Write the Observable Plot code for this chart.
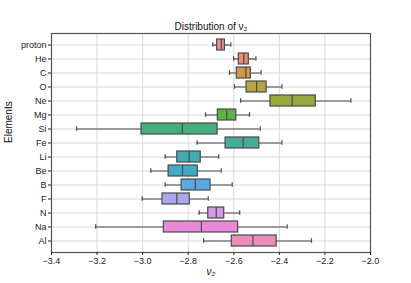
<!DOCTYPE html>
<html><head><meta charset="utf-8">
<script src="https://cdn.jsdelivr.net/npm/d3@7"></script>
<script src="https://cdn.jsdelivr.net/npm/@observablehq/plot@0.6"></script>
<style>
html,body{margin:0;padding:0;background:#fff;}
svg{font-family:"Liberation Sans",Arial,sans-serif;}
</style>
</head><body>
<div id="chart"></div>
<script>
const elements = ["proton","He","C","O","Ne","Mg","Si","Fe","Li","Be","B","F","N","Na","Al"].filter(e => e !== "");
const whiskerLow = [-2.692,-2.601,-2.619,-2.597,-2.570,-2.724,-3.290,-2.761,-2.901,-2.964,-2.901,-3.002,-2.752,-3.206,-2.732];
const q1 =         [-2.673,-2.578,-2.587,-2.544,-2.439,-2.670,-3.005,-2.636,-2.848,-2.886,-2.829,-2.913,-2.712,-2.907,-2.609];
const median =     [-2.655,-2.556,-2.547,-2.500,-2.344,-2.631,-2.826,-2.559,-2.796,-2.825,-2.769,-2.850,-2.677,-2.742,-2.516];
const q3 =         [-2.639,-2.534,-2.525,-2.456,-2.240,-2.589,-2.671,-2.488,-2.745,-2.758,-2.702,-2.793,-2.642,-2.581,-2.412];
const whiskerHigh =[-2.613,-2.503,-2.480,-2.389,-2.086,-2.531,-2.484,-2.389,-2.666,-2.655,-2.607,-2.712,-2.574,-2.366,-2.259];
const colors = ["#e8919b","#e6906d","#cf9a45","#b5a441","#98a83f","#5db446","#44ae7e","#45ac99","#45abb3","#42abc4","#5aa8e0","#a9a8ee","#d49ae8","#e88ad9","#ea8db8"];
const xTicks = [-3.4,-3.2,-3.0,-2.8,-2.6,-2.4,-2.2,-2.0];

const rows = elements.map((e,i) => ({el:e, lo:whiskerLow[i], q1:q1[i], med:median[i], q3:q3[i], hi:whiskerHigh[i], color:colors[i]}));
const edge = "#4a4a4a";

const chart = Plot.plot({
  width: 411, height: 283,
  marginLeft: 51, marginRight: 41, marginTop: 33, marginBottom: 31,
  style: {fontFamily: '"Liberation Sans", Arial, sans-serif', fontSize: "9px", color: "#222"},
  x: {domain: [-3.4, -2.0], ticks: xTicks, tickFormat: d3.format(".1f"), label: null},
  y: {domain: elements, paddingInner: 0.2, paddingOuter: 0.1, label: null},
  marks: [
    Plot.gridX(xTicks, {stroke: "#d9d9d9", strokeOpacity: 1}),
    Plot.gridY(elements, {stroke: "#d9d9d9", strokeOpacity: 1}),
    Plot.ruleY(rows, {y: "el", x1: "lo", x2: "hi", stroke: edge, strokeWidth: 1.2}),
    Plot.tickX(rows, {x: "lo", y: "el", stroke: edge, strokeWidth: 1.2, insetTop: 3.2, insetBottom: 3.2}),
    Plot.tickX(rows, {x: "hi", y: "el", stroke: edge, strokeWidth: 1.2, insetTop: 3.2, insetBottom: 3.2}),
    Plot.barX(rows, {y: "el", x1: "q1", x2: "q3", fill: "color", stroke: edge, strokeWidth: 1.2}),
    Plot.tickX(rows, {x: "med", y: "el", stroke: edge, strokeWidth: 1.2}),
    Plot.frame({stroke: "#555", strokeWidth: 1.2}),
    Plot.axisX({ticks: xTicks, tickFormat: d3.format(".1f"), tickSize: 3, tickPadding: 2, label: null, fontSize: 9}),
    Plot.axisY({tickSize: 3, tickPadding: 2, label: null, fontSize: 9}),
    Plot.text(["Distribution of ν₂"], {frameAnchor: "top", dy: -11, fontSize: 10, fill: "#111"}),
    Plot.text(["ν₂"], {frameAnchor: "bottom", dy: 22, fontSize: 10, fontStyle: "italic", fill: "#111"}),
    Plot.text(["Elements"], {frameAnchor: "left", dx: -43, rotate: -90, fontSize: 10, fill: "#111"})
  ]
});
document.getElementById("chart").appendChild(chart);
</script>
</body></html>
